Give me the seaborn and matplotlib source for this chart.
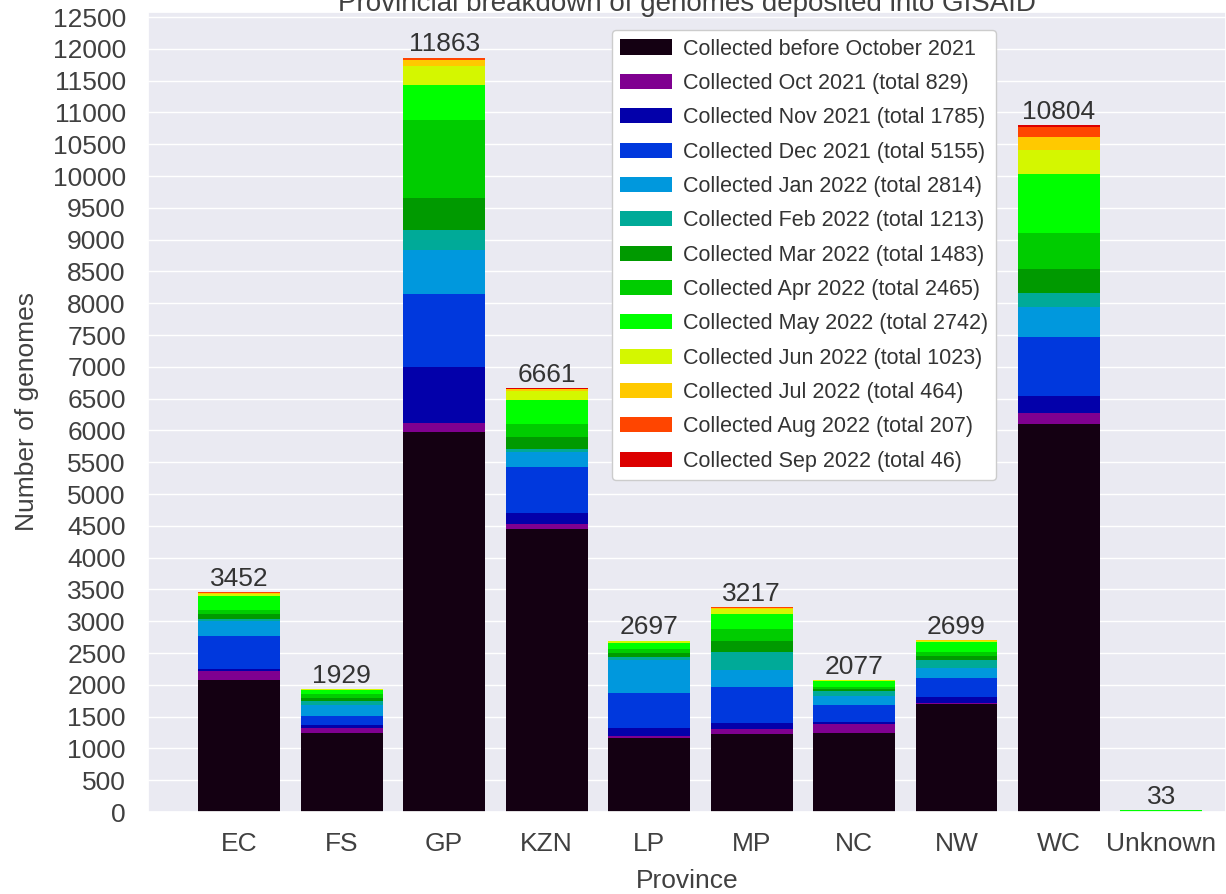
import matplotlib
matplotlib.use('Agg')
import matplotlib.pyplot as plt
import numpy as np
import pandas as pd
import seaborn as sns

# provinces and total genomes per province
provinces = ['EC', 'FS', 'GP', 'KZN', 'LP', 'MP', 'NC', 'NW', 'WC', 'Unknown']
totals = [3452, 1929, 11863, 6661, 2697, 3217, 2077, 2699, 10804, 33]

# collection periods and national totals (for the legend)
periods = ['before October 2021', 'Oct 2021', 'Nov 2021', 'Dec 2021', 'Jan 2022',
           'Feb 2022', 'Mar 2022', 'Apr 2022', 'May 2022', 'Jun 2022',
           'Jul 2022', 'Aug 2022', 'Sep 2022']
period_totals = [None, 829, 1785, 5155, 2814, 1213, 1483, 2465, 2742, 1023, 464, 207, 46]

# genomes per province for each period
before_oct21 = [2075, 1245, 5980, 4450, 1170, 1220, 1240, 1700, 6100, 0]
oct21 = [150, 80, 140, 75, 20, 80, 150, 10, 177, 0]
nov21 = [26, 50, 880, 180, 130, 100, 30, 100, 262, 0]
dec21 = [524, 130, 1150, 725, 550, 570, 270, 290, 926, 0]
jan22 = [221, 185, 680, 230, 520, 260, 130, 160, 474, 0]
feb22 = [42, 53, 320, 55, 40, 280, 80, 130, 225, 0]
mar22 = [78, 53, 500, 180, 70, 180, 40, 70, 382, 0]
apr22 = [53, 53, 1230, 205, 60, 180, 30, 60, 551, 0]
may22 = [230, 63, 550, 385, 100, 240, 90, 150, 933, 33]
jun22 = [32, 16, 300, 130, 35, 80, 15, 25, 375, 0]
jul22 = [18, 1, 100, 36, 2, 22, 2, 4, 212, 0]
aug22 = [3, 0, 25, 8, 0, 4, 0, 0, 150, 0]
sep22 = [0, 0, 8, 2, 0, 1, 0, 0, 37, 0]

frame = pd.DataFrame([before_oct21, oct21, nov21, dec21, jan22, feb22, mar22,
                      apr22, may22, jun22, jul22, aug22, sep22],
                     index=periods, columns=provinces).T
stacked = frame.cumsum(axis=1)

labels = ['Collected before October 2021'] + \
         ['Collected %s (total %d)' % (p, t) for p, t in zip(periods[1:], period_totals[1:])]
colors = plt.cm.nipy_spectral(np.linspace(0, 0.9, len(periods)))
colors[0] = (0.08, 0.0, 0.07, 1.0)  # very dark purple-black like the original

sns.set_theme(style='darkgrid')
plt.rcParams['font.family'] = ['Liberation Sans', 'DejaVu Sans']

fig, ax = plt.subplots(figsize=(12.26, 8.94))
fig.subplots_adjust(left=0.1207, right=1.0, bottom=0.0917, top=0.9866)

# draw the tallest (cumulative) bars first, shorter ones on top
for period, label, color in reversed(list(zip(periods, labels, colors))):
    sns.barplot(x=provinces, y=stacked[period].values, color=color, label=label,
                saturation=1, linewidth=0, width=0.8, ax=ax)

ax.bar_label(ax.containers[0], labels=[str(t) for t in totals], padding=1,
             fontsize=19, color='.2')

ax.set_xlim(-0.89, 9.63)
ax.set_ylim(0, 12580)
ax.set_yticks(np.arange(0, 12501, 500))
ax.xaxis.grid(False)
ax.tick_params(axis='both', labelsize=19, labelcolor='.25')
ax.tick_params(axis='x', pad=8.5)
ax.tick_params(axis='y', pad=10)
ax.set_xlabel('Province', fontsize=19, color='.25', labelpad=9)
ax.set_ylabel('Number of genomes', fontsize=19, color='.25', labelpad=10)
ax.set_title('Provincial breakdown of genomes deposited into GISAID', fontsize=20,
             color='.25', pad=1)

handles, leg_labels = ax.get_legend_handles_labels()
leg = ax.legend(handles[::-1], leg_labels[::-1], loc='upper left',
                bbox_to_anchor=(0.42, 0.991), fontsize=15.5, handlelength=2.4,
                handletextpad=0.5, labelspacing=0.62, facecolor='white', framealpha=1)
for t in leg.get_texts():
    t.set_color('.2')

fig.savefig('out.png', dpi=100)
